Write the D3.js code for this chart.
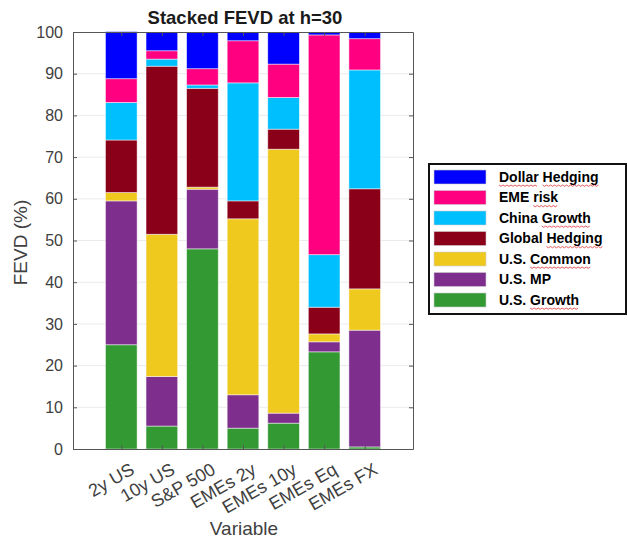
<!DOCTYPE html>
<html>
<head>
<meta charset="utf-8">
<script src="https://cdn.jsdelivr.net/npm/d3@7"></script>
<style>
  body { margin: 0; background: #fff; }
  svg { font-family: "Liberation Sans", Arial, sans-serif; }
</style>
</head>
<body>
<div id="chart"></div>
<script>
// categories on the x axis
var variables = ["2y US", "10y US", "S&P 500", "EMEs 2y", "EMEs 10y", "EMEs Eq", "EMEs FX"];

// shocks, bottom of the stack first
var shocks = ["U.S. Growth", "U.S. MP", "U.S. Common", "Global Hedging", "China Growth", "EME risk", "Dollar Hedging"];

// FEVD shares (%) per shock, one value per variable
var usGrowth      = [25.0,  5.5, 48.0,  5.0,  6.2, 23.3,  0.5];
var usMP          = [34.5, 11.9, 14.3,  8.0,  2.4,  2.4, 28.0];
var usCommon      = [ 2.0, 34.1,  0.5, 42.2, 63.3,  1.9,  9.9];
var globalHedging = [12.6, 40.3, 23.7,  4.3,  4.8,  6.4, 24.0];
var chinaGrowth   = [ 9.0,  1.7,  0.8, 28.3,  7.6, 12.6, 28.5];
var emeRisk       = [ 5.7,  2.0,  3.9, 10.1,  8.0, 52.7,  7.5];
var dollarHedging = [11.3,  4.5,  8.8,  2.1,  7.7,  0.7,  1.6];

var yTicks = [0, 10, 20, 30, 40, 50, 60, 70, 80, 90, 100];

var series = [usGrowth, usMP, usCommon, globalHedging, chinaGrowth, emeRisk, dollarHedging];
var colors = ["#339933", "#7E2F8E", "#EFC91E", "#8A0019", "#00BFFF", "#FF0080", "#0000FF"];

// words flagged with the red squiggle in the legend
var squiggled = {
  "Dollar Hedging": ["Dollar", "Hedging"],
  "EME risk": ["risk"],
  "China Growth": ["Growth"],
  "Global Hedging": ["Hedging"],
  "U.S. Common": ["Common"],
  "U.S. MP": [],
  "U.S. Growth": ["Growth"]
};

var W = 627, H = 539;
var margin = {top: 32, left: 73, right: 214, bottom: 90};
var width = W - margin.left - margin.right;   // 340
var height = H - margin.top - margin.bottom;  // 417

var table = variables.map(function(v, i) {
  var row = {name: v};
  shocks.forEach(function(s, j) { row[s] = series[j][i]; });
  return row;
});
var stacked = d3.stack().keys(shocks)(table);

var svg = d3.select("#chart").append("svg")
  .attr("width", W)
  .attr("height", H);

var g = svg.append("g")
  .attr("transform", "translate(" + margin.left + "," + margin.top + ")");

var xScale = d3.scaleLinear()
  .domain([-0.19, 8.19])
  .range([0, width]);

var yScale = d3.scaleLinear()
  .domain([0, 100])
  .range([height, 0]);

var step = xScale(2) - xScale(1);
var barW = step * 0.78;

// grid lines
g.append("g")
  .selectAll("line")
  .data(yTicks.slice(1, -1))
  .enter()
  .append("line")
  .attr("x1", 0)
  .attr("x2", width)
  .attr("y1", function(d) { return yScale(d); })
  .attr("y2", function(d) { return yScale(d); })
  .attr("stroke", "#ebebeb")
  .attr("stroke-width", 1);

// stacked bars
var layer = g.selectAll(".layer")
  .data(stacked)
  .enter()
  .append("g")
  .attr("class", "layer")
  .attr("fill", function(d, i) { return colors[i]; });

layer.selectAll("rect")
  .data(function(d) { return d; })
  .enter()
  .append("rect")
  .attr("x", function(d, i) { return xScale(i + 1) - barW / 2; })
  .attr("width", barW)
  .attr("y", function(d) { return yScale(d[1]); })
  .attr("height", function(d) { return yScale(d[0]) - yScale(d[1]); })
  .attr("stroke", "rgba(255,255,255,0.6)")
  .attr("stroke-width", 0.8);

// axes (box with inward ticks, like matlab)
var axisColor = "#555";
var leftAxis = g.append("g")
  .call(d3.axisLeft(yScale).tickValues(yTicks).tickSizeInner(-4).tickSizeOuter(0).tickPadding(10));
var rightAxis = g.append("g")
  .attr("transform", "translate(" + width + ",0)")
  .call(d3.axisRight(yScale).tickValues(yTicks).tickSizeInner(-4).tickSizeOuter(0).tickFormat(""));
var bottomAxis = g.append("g")
  .attr("transform", "translate(0," + height + ")")
  .call(d3.axisBottom(xScale).tickValues(d3.range(1, 8)).tickSizeInner(-4).tickSizeOuter(0).tickFormat(""));
var topAxis = g.append("g")
  .call(d3.axisTop(xScale).tickValues(d3.range(1, 8)).tickSizeInner(-4).tickSizeOuter(0).tickFormat(""));

[leftAxis, rightAxis, bottomAxis, topAxis].forEach(function(a) {
  a.select(".domain").attr("stroke", axisColor);
  a.selectAll(".tick line").attr("stroke", axisColor);
});
leftAxis.selectAll(".tick text")
  .attr("fill", "#404040")
  .style("font-size", "16px")
  .style("font-family", "Liberation Sans, Arial, sans-serif");

// rotated x labels
g.append("g")
  .selectAll("text")
  .data(variables)
  .enter()
  .append("text")
  .attr("transform", function(d, i) {
    return "translate(" + (xScale(i + 1) + 8) + "," + (height + 13) + ") rotate(-30)";
  })
  .attr("text-anchor", "end")
  .attr("dy", "0.7em")
  .attr("fill", "#404040")
  .style("font-size", "18px")
  .text(function(d) { return d; });

// title
svg.append("text")
  .attr("x", margin.left + width / 2 + 2)
  .attr("y", 24)
  .attr("text-anchor", "middle")
  .attr("fill", "#1a1a1a")
  .style("font-size", "18.5px")
  .style("font-weight", "bold")
  .text("Stacked FEVD at h=30");

svg.append("text")
  .attr("x", 244)
  .attr("y", 535)
  .attr("text-anchor", "middle")
  .attr("fill", "#404040")
  .style("font-size", "19px")
  .text("Variable");

svg.append("text")
  .attr("transform", "translate(27," + (margin.top + height / 2 + 2) + ") rotate(-90)")
  .attr("text-anchor", "middle")
  .attr("fill", "#404040")
  .style("font-size", "19px")
  .text("FEVD (%)");

// legend, top entry is the top of the stack
var legend = svg.append("g");
legend.append("rect")
  .attr("x", 429)
  .attr("y", 164)
  .attr("width", 197)
  .attr("height", 150)
  .attr("fill", "#fff")
  .attr("stroke", "#111")
  .attr("stroke-width", 2);

var legendOrder = shocks.slice().reverse();
var item = legend.selectAll(".item")
  .data(legendOrder)
  .enter()
  .append("g")
  .attr("class", "item")
  .attr("transform", function(d, i) { return "translate(0," + (177 + i * 20.5) + ")"; });

item.append("rect")
  .attr("x", 434)
  .attr("y", -7)
  .attr("width", 52)
  .attr("height", 14)
  .attr("fill", function(d) { return colors[shocks.indexOf(d)]; })
  .attr("stroke", "#ccc")
  .attr("stroke-width", 0.6);

item.append("text")
  .attr("x", 499)
  .attr("dy", "0.35em")
  .attr("fill", "#000")
  .style("font-size", "14px")
  .style("font-weight", "bold")
  .text(function(d) { return d; });

// red squiggle under flagged words
item.each(function(d) {
  var t = d3.select(this).select("text").node();
  squiggled[d].forEach(function(word) {
    var start = d.indexOf(word);
    var x0 = 499 + (start > 0 ? t.getSubStringLength(0, start) : 0);
    var len = t.getSubStringLength(start, word.length);
    var pts = [];
    for (var x = 0; x <= len; x += 2) {
      pts.push([x0 + x, 8 + ((x / 2) % 2 === 0 ? 0 : 1.3)]);
    }
    d3.select(this).append("path")
      .attr("d", d3.line()(pts))
      .attr("fill", "none")
      .attr("stroke", "#e03030")
      .attr("stroke-width", 0.8);
  }, this);
});
</script>
</body>
</html>
